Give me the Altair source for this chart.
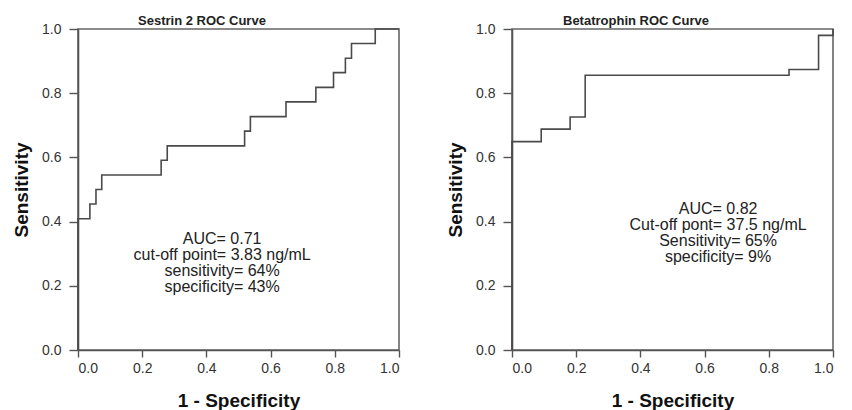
import altair as alt
import pandas as pd

# Sestrin 2 ROC curve (step corners, step-after)
ses_fpr = [0.0, 0.0, 0.037, 0.056, 0.074, 0.259, 0.278, 0.519, 0.537, 0.648, 0.741, 0.796, 0.833, 0.852, 0.926, 1.0]
ses_tpr = [0.0, 0.409, 0.455, 0.5, 0.545, 0.591, 0.636, 0.682, 0.727, 0.773, 0.818, 0.864, 0.909, 0.955, 1.0, 1.0]

# Betatrophin ROC curve
bet_fpr = [0.0, 0.0, 0.091, 0.181, 0.228, 0.863, 0.955, 1.0]
bet_tpr = [0.0, 0.649, 0.688, 0.726, 0.856, 0.874, 0.98, 1.0]

ses_title = "Sestrin 2 ROC Curve"
bet_title = "Betatrophin ROC Curve"
ses_note = ["AUC= 0.71", "cut-off point= 3.83 ng/mL", "sensitivity= 64%", "specificity= 43%"]
bet_note = ["AUC= 0.82", "Cut-off pont= 37.5 ng/mL", "Sensitivity= 65%", "specificity= 9%"]
ticks = [0.0, 0.2, 0.4, 0.6, 0.8, 1.0]

FONT = "Liberation Sans"
LINE = "#4a4a4a"
W = 321
H = 321


def panel(fpr, tpr, title, note, note_x, note_y, title_dx):
    df = pd.DataFrame({"fpr": fpr, "tpr": tpr, "idx": list(range(len(fpr)))})
    x = alt.X("fpr:Q", scale=alt.Scale(domain=[0, 1], nice=False),
              axis=alt.Axis(values=ticks, format=".1f", title="1 - Specificity",
                            tickSize=7, titlePadding=16, labelPadding=4))
    y = alt.Y("tpr:Q", scale=alt.Scale(domain=[0, 1], nice=False),
              axis=alt.Axis(values=ticks, format=".1f", title="Sensitivity",
                            tickSize=9, titlePadding=10, labelPadding=8))
    line = alt.Chart(df).mark_line(interpolate="step-after", color=LINE, strokeWidth=1.6).encode(
        x=x, y=y, order=alt.Order("idx:Q")
    )
    note_df = pd.DataFrame({"note": ["\n".join(note)]})
    txt = alt.Chart(note_df).mark_text(
        align="center", baseline="top", font=FONT, fontSize=16, lineHeight=16,
        color="#222222", lineBreak="\n"
    ).encode(
        x=alt.datum(note_x), y=alt.datum(note_y), text=alt.Text("note:N")
    )
    return alt.layer(line, txt).properties(
        width=W, height=H,
        title=alt.TitleParams(title, anchor="start", frame="group", dx=title_dx, fontSize=13,
                              font=FONT, fontWeight="bold", color="#222222", offset=-6),
    )


left = panel(ses_fpr, ses_tpr, ses_title, ses_note, 0.449, 0.371, 60)
right = panel(bet_fpr, bet_tpr, bet_title, bet_note, 0.642, 0.464, 51)

chart = alt.hconcat(left, right, spacing=42).properties(
    padding={"left": 3, "top": 6, "right": 5, "bottom": 5}
).configure_view(
    stroke="#666666", strokeWidth=1.6
).configure_axis(
    grid=False, domainColor="#555555", domainWidth=1.6, tickColor="#555555", tickWidth=1.4,
    labelFont=FONT, labelFontSize=14, labelColor="#333333",
    titleFont=FONT, titleFontSize=19, titleFontWeight="bold", titleColor="#111111",
)

chart.save("out.html", embed_options={"renderer": "svg", "actions": False})
